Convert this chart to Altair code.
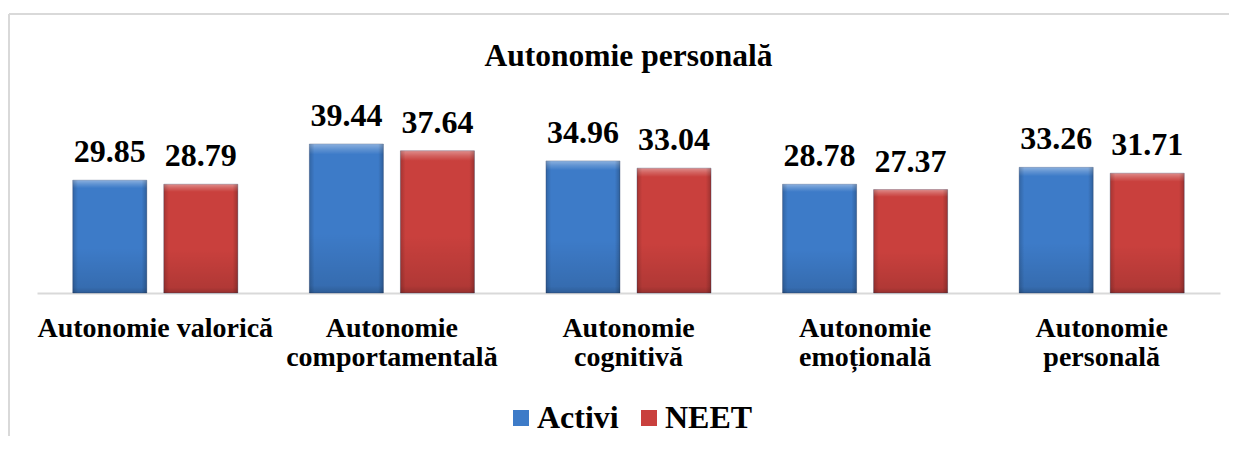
import altair as alt
import pandas as pd

categories = [
    "Autonomie valorică",
    "Autonomie comportamentală",
    "Autonomie cognitivă",
    "Autonomie emoțională",
    "Autonomie personală",
]
series = ["Activi", "NEET"]
activi = [29.85, 39.44, 34.96, 28.78, 33.26]
neet = [28.79, 37.64, 33.04, 27.37, 31.71]
colors = ["#3D7BC8", "#C9403D"]

rows = []
for c, a, n in zip(categories, activi, neet):
    rows.append({"cat": c, "grp": "Activi", "val": a})
    rows.append({"cat": c, "grp": "NEET", "val": n})
df = pd.DataFrame(rows)

FONT = "'Liberation Serif', 'Times New Roman', 'DejaVu Serif', serif"
W, H = 1183, 170

x_enc = alt.X(
    "cat:N",
    sort=categories,
    scale=alt.Scale(paddingInner=0, paddingOuter=0),
    axis=alt.Axis(
        title=None,
        labelAngle=0,
        ticks=False,
        tickSize=0,
        domainColor="#d9d9d9",
        domainWidth=2,
        labelFont=FONT,
        labelFontSize=28,
        labelFontWeight="bold",
        labelColor="#000000",
        labelPadding=21,
        labelBaseline="top",
        labelLineHeight=29,
        labelLimit=500,
        labelExpr="datum.label === 'Autonomie valorică' ? datum.label : split(datum.label, ' ')",
    ),
)
xo_enc = alt.XOffset(
    "grp:N", sort=series, scale=alt.Scale(paddingInner=0.187, paddingOuter=0.393)
)
y_enc = alt.Y("val:Q", scale=alt.Scale(domain=[0, 45]), axis=None)

base = alt.Chart(df).encode(x=x_enc, xOffset=xo_enc, y=y_enc)

bars = base.mark_bar(stroke="#2a3f66", strokeOpacity=0.35, strokeWidth=1).encode(
    color=alt.Color(
        "grp:N",
        sort=series,
        scale=alt.Scale(domain=series, range=colors),
        legend=alt.Legend(
            title=None,
            orient="none",
            direction="horizontal",
            legendX=468,
            legendY=279,
            symbolType="square",
            symbolSize=256,
            symbolStrokeWidth=0,
            symbolOpacity=1,
            labelFont=FONT,
            labelFontSize=32,
            labelFontWeight="bold",
            labelColor="#000000",
            labelOffset=0,
            labelLimit=300,
            columnPadding=14,
        ),
    )
)

vgrad = {
    "gradient": "linear",
    "x1": 0, "y1": 0, "x2": 0, "y2": 1,
    "stops": [
        {"offset": 0, "color": "rgba(255,255,255,0.40)"},
        {"offset": 0.035, "color": "rgba(255,255,255,0.18)"},
        {"offset": 0.07, "color": "rgba(255,255,255,0.0)"},
        {"offset": 0.6, "color": "rgba(0,0,0,0.0)"},
        {"offset": 0.95, "color": "rgba(0,0,0,0.12)"},
        {"offset": 1, "color": "rgba(0,0,0,0.25)"},
    ],
}
hgrad = {
    "gradient": "linear",
    "x1": 0, "y1": 0, "x2": 1, "y2": 0,
    "stops": [
        {"offset": 0, "color": "rgba(0,0,0,0.18)"},
        {"offset": 0.07, "color": "rgba(0,0,0,0.0)"},
        {"offset": 0.93, "color": "rgba(0,0,0,0.0)"},
        {"offset": 1, "color": "rgba(0,0,0,0.22)"},
    ],
}
overlay_v = base.mark_bar(fill=vgrad, strokeWidth=0)
overlay_h = base.mark_bar(fill=hgrad, strokeWidth=0)

labels = base.mark_text(
    font=FONT, fontSize=32, fontWeight="bold", color="#000000",
    baseline="alphabetic", dy=-18,
).encode(text=alt.Text("val:Q", format=".2f"))

one = alt.Data(values=[{"k": 1}])
frame_top = alt.Chart(one).mark_rule(color="#d9d9d9", strokeWidth=2).encode(
    x=alt.value(-28), x2=alt.value(1260), y=alt.value(-109)
)
frame_left = alt.Chart(one).mark_rule(color="#d9d9d9", strokeWidth=2).encode(
    x=alt.value(-28), y=alt.value(-109), y2=alt.value(400)
)

chart = (
    alt.layer(frame_top, frame_left, bars, overlay_v, overlay_h, labels)
    .properties(
        width=W,
        height=H,
        autosize=alt.AutoSizeParams(type="none"),
        padding={"left": 29, "top": 115, "right": 9, "bottom": 143},
        title=alt.Title(
            "Autonomie personală",
            font=FONT,
            fontSize=31.5,
            fontWeight="bold",
            color="#000000",
            anchor="middle",
            frame="group",
            baseline="alphabetic",
            offset=-84,
        ),
    )
    .configure(background="white")
    .configure_view(strokeWidth=0)
)

chart.save("out.html", embed_options={"renderer": "svg", "actions": False})
